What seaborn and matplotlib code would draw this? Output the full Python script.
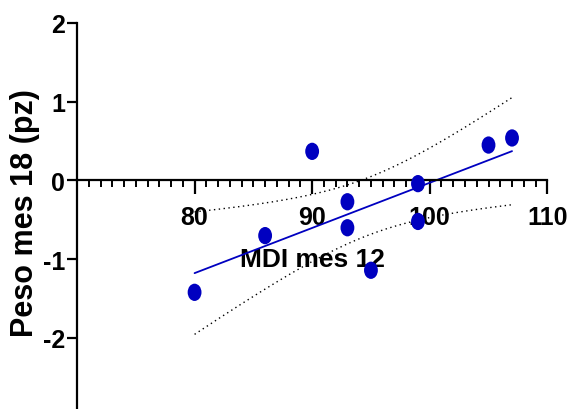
import numpy as np
import pandas as pd
import matplotlib
matplotlib.use("Agg")
import matplotlib.pyplot as plt
import matplotlib.path as mpath
from matplotlib.transforms import Affine2D
from matplotlib.ticker import MultipleLocator, FixedLocator
import seaborn as sns

# ---- data ----
mdi_mes12 = [80, 86, 90, 93, 93, 95, 99, 99, 105, 107]
peso_mes18 = [-1.42, -0.70, 0.37, -0.27, -0.60, -1.14, -0.04, -0.52, 0.45, 0.54]
x_ticks = [80, 90, 100, 110]
y_ticks = [-3, -2, -1, 0, 1, 2]
x_label = "MDI mes 12"
y_label = "Peso mes 18 (pz)"

df = pd.DataFrame({"x": mdi_mes12, "y": peso_mes18})

sns.set_style("ticks")
plt.rcParams["font.family"] = ["Liberation Sans", "DejaVu Sans"]
plt.rcParams["font.weight"] = "bold"
plt.rcParams["axes.unicode_minus"] = False
for k in ("text.color", "axes.labelcolor", "xtick.color", "ytick.color",
          "axes.edgecolor"):
    plt.rcParams[k] = "black"

fig = plt.figure(figsize=(5.69, 4.10), dpi=100)
ax = fig.add_axes([77 / 569, -0.0189, 470.3 / 569, 0.9604])

blue = "#0000c0"
ellipse = mpath.Path.unit_circle().transformed(Affine2D().scale(0.8, 1.0))

sns.regplot(data=df, x="x", y="y", ax=ax, ci=None, truncate=True,
            marker=ellipse,
            scatter_kws={"s": 155, "color": blue, "edgecolor": "none", "alpha": 1, "zorder": 3},
            line_kws={"color": blue, "lw": 1.3, "zorder": 2})

# 95% confidence band of the fitted line (analytic, as in GraphPad)
x = np.asarray(mdi_mes12, float)
y = np.asarray(peso_mes18, float)
n = len(x)
b1, b0 = np.polyfit(x, y, 1)
resid = y - (b0 + b1 * x)
s = np.sqrt(np.sum(resid ** 2) / (n - 2))
t = 2.306  # t(0.975, df=8)
xg = np.linspace(x.min(), x.max(), 200)
yg = b0 + b1 * xg
se = s * np.sqrt(1 / n + (xg - x.mean()) ** 2 / np.sum((x - x.mean()) ** 2))
ax.plot(xg, yg + t * se, color="black", lw=1.0, ls=(0, (1, 2.5)), zorder=1)
ax.plot(xg, yg - t * se, color="black", lw=1.0, ls=(0, (1, 2.5)), zorder=1)

ax.set_xlim(70, 110)
ax.set_ylim(-3, 2)
ax.spines["left"].set_position(("data", 70))
ax.spines["bottom"].set_position(("data", 0))
ax.spines["top"].set_visible(False)
ax.spines["right"].set_visible(False)
for sp in ("left", "bottom"):
    ax.spines[sp].set_linewidth(1.6)
    ax.spines[sp].set_color("black")

ax.xaxis.set_major_locator(FixedLocator(x_ticks))
ax.xaxis.set_minor_locator(MultipleLocator(1))
ax.yaxis.set_major_locator(FixedLocator(y_ticks))
ax.set_xticklabels([str(v) for v in x_ticks])
ax.set_yticklabels([str(v) for v in y_ticks])

ax.tick_params(axis="x", which="major", direction="out", length=10, width=1.6,
               labelsize=18, pad=8, colors="black")
ax.tick_params(axis="x", which="minor", direction="out", length=5, width=1.4,
               colors="black")
ax.tick_params(axis="y", which="major", direction="out", length=7.5, width=1.6,
               labelsize=18, pad=1, colors="black")
for lab in ax.get_xticklabels() + ax.get_yticklabels():
    lab.set_fontweight("bold")

ax.set_xlabel(x_label, fontsize=19, fontweight="bold", color="black")
ax.xaxis.set_label_coords(0.5, 0.43)
ax.set_ylabel(y_label, fontsize=22, fontweight="bold", color="black")
ax.yaxis.set_label_coords(-0.078, 0.52)

fig.savefig("out.png", dpi=100)
